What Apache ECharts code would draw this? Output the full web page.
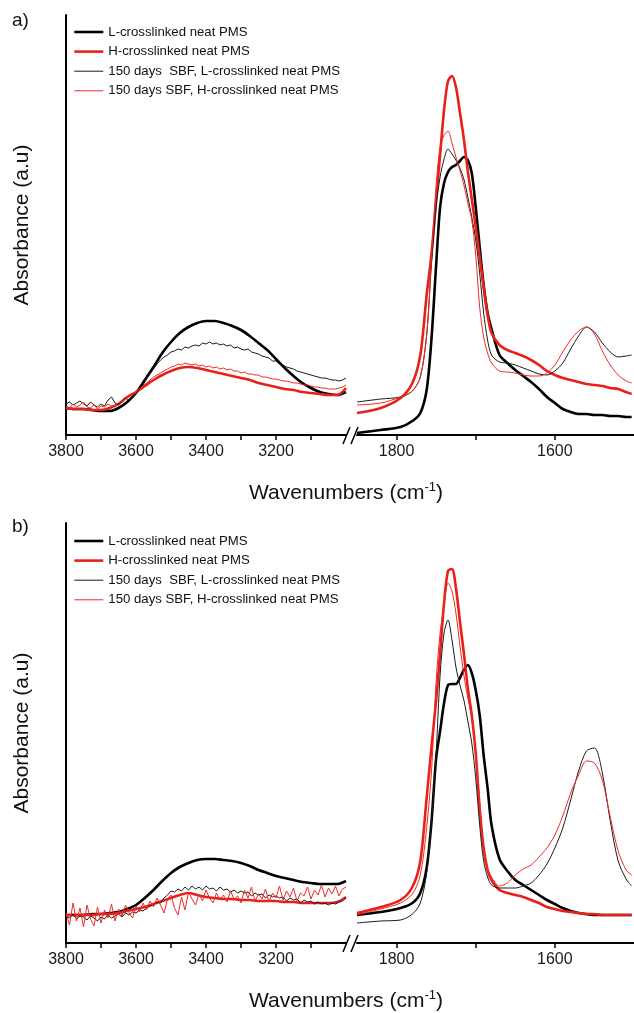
<!DOCTYPE html>
<html>
<head>
<meta charset="utf-8">
<title>FTIR spectra of neat PMS</title>
<script src="https://cdn.jsdelivr.net/npm/echarts@6.0.0/dist/echarts.min.js"></script>
<style>
  html, body { margin: 0; padding: 0; background: #fff; }
  #chart { width: 634px; height: 1013px; }
</style>
</head>
<body>
<div id="chart"></div>
<script>
// legend / series names
const seriesNames = [
  'L-crosslinked neat PMS',
  'H-crosslinked neat PMS',
  '150 days  SBF, L-crosslinked neat PMS',
  '150 days SBF, H-crosslinked neat PMS'
];

// wavenumber grids (cm-1)
const leftWnCoarse = [
  3800, 3775, 3750, 3725, 3700, 3675, 3650, 3625, 3600, 3575,
  3550, 3525, 3500, 3475, 3450, 3425, 3400, 3375, 3350, 3325,
  3300, 3275, 3250, 3225, 3200, 3175, 3150, 3125, 3100, 3075,
  3050, 3025, 3000
];
const leftWnFine = [
  3800, 3790, 3780, 3770, 3760, 3750, 3740, 3730, 3720, 3710,
  3700, 3690, 3680, 3670, 3660, 3650, 3640, 3630, 3620, 3610,
  3600, 3590, 3580, 3570, 3560, 3550, 3540, 3530, 3520, 3510,
  3500, 3490, 3480, 3470, 3460, 3450, 3440, 3430, 3420, 3410,
  3400, 3390, 3380, 3370, 3360, 3350, 3340, 3330, 3320, 3310,
  3300, 3290, 3280, 3270, 3260, 3250, 3240, 3230, 3220, 3210,
  3200, 3190, 3180, 3170, 3160, 3150, 3140, 3130, 3120, 3110,
  3100, 3090, 3080, 3070, 3060, 3050, 3040, 3030, 3020, 3010,
  3000
];
const rightWn = [
  1850, 1820, 1795, 1780, 1770, 1762, 1756, 1750, 1745, 1740,
  1735, 1730, 1725, 1720, 1715, 1710, 1705, 1700, 1695, 1690,
  1685, 1680, 1670, 1660, 1650, 1640, 1630, 1620, 1610, 1600,
  1590, 1580, 1570, 1560, 1550, 1540, 1530, 1520, 1510, 1503
];

// axis ticks and labels
const leftTicks = [3800, 3700, 3600, 3500, 3400, 3300, 3200, 3100];
const leftLabels = [3800, 3600, 3400, 3200];
const rightTicks = [1800, 1700, 1600];
const rightLabels = [1800, 1600];

// ---- panel a) absorbance (a.u.) ----
const aLThickLeft = [
  27, 26, 26, 25, 24, 24, 27, 33, 42, 55,
  68, 82, 93, 102, 108, 112, 114, 114, 112, 109,
  105, 99, 92, 85, 76, 67, 59, 52, 47, 43,
  41, 40, 43
];
const aHThickLeft = [
  27, 26, 26, 25, 25, 27, 31, 38, 43, 49,
  55, 60, 64, 67, 68, 67, 65, 63, 61, 59,
  57, 55, 52, 50, 48, 46, 45, 43, 42, 41,
  40, 40, 47
];
const aLThinLeft = [
  31, 33, 30, 32, 34, 31, 29, 33, 30, 28,
  31, 29, 35, 38, 32, 30, 34, 37, 35, 39,
  41, 46, 50, 56, 61, 66, 71, 75, 78, 80,
  83, 84, 86, 85, 88, 87, 89, 90, 89, 92,
  91, 93, 91, 92, 90, 91, 89, 90, 87, 88,
  86, 85, 86, 83, 82, 81, 79, 78, 77, 74,
  74, 71, 70, 68, 67, 66, 64, 63, 62, 61,
  60, 59, 58, 57, 57, 56, 55, 55, 54, 55,
  57
];
const aHThinLeft = [
  29, 27, 31, 28, 30, 33, 28, 27, 30, 26,
  29, 28, 31, 29, 30, 32, 34, 36, 38, 41,
  43, 46, 49, 52, 55, 58, 60, 62, 64, 66,
  68, 69, 71, 70, 72, 71, 70, 71, 69, 70,
  68, 69, 67, 68, 66, 67, 65, 66, 64, 64,
  62, 63, 61, 61, 60, 60, 58, 58, 57, 56,
  56, 55, 54, 54, 53, 52, 52, 51, 50, 50,
  49, 48, 48, 47, 47, 46, 46, 46, 47, 48,
  50
];
const aLThickRight = [
  2, 5, 8, 14, 22, 45, 95, 170, 228, 252,
  263, 268, 270, 274, 278, 275, 262, 228, 188, 150,
  122, 106, 80, 72, 65, 59, 53, 46, 38, 32,
  26, 23, 21, 21, 20, 20, 19, 19, 18, 18
];
const aHThickRight = [
  22, 27, 37, 52, 80, 140, 180, 235, 280, 325,
  354, 359, 348, 323, 296, 264, 236, 208, 178, 148,
  120, 102, 90, 85, 82, 79, 75, 70, 64, 60,
  57, 55, 53, 51, 50, 49, 47, 46, 43, 41
];
const aLThinRight = [
  33, 36, 38, 44, 58, 100, 170, 228, 258, 276,
  286, 281, 275, 267, 256, 238, 218, 195, 162, 122,
  95, 80, 73, 72, 70, 67, 64, 61, 60, 64,
  72, 86, 99, 108, 103, 92, 83, 78, 79, 80
];
const aHThinRight = [
  30, 32, 38, 44, 58, 100, 175, 250, 288, 300,
  304, 292, 278, 265, 250, 232, 215, 180, 128, 98,
  82, 72, 64, 63, 62, 60, 59, 59, 62, 70,
  83, 95, 104, 108, 101, 84, 70, 60, 54, 52
];

// ---- panel b) ----
const bLThickLeft = [
  28, 28, 28, 29, 29, 30, 31, 34, 38, 45,
  53, 62, 70, 76, 80, 83, 84, 84, 83, 82,
  80, 77, 73, 70, 67, 65, 63, 61, 60, 59,
  59, 59, 62
];
const bHThickLeft = [
  28, 28, 28, 28, 29, 29, 30, 32, 34, 36,
  39, 42, 45, 48, 50, 48, 46, 45, 44, 44,
  43, 43, 42, 42, 42, 41, 41, 40, 40, 40,
  40, 41, 46
];
const bLThinLeft = [
  27, 25, 29, 24, 27, 26, 23, 27, 25, 22,
  26, 24, 28, 25, 27, 29, 26, 30, 28, 31,
  30, 33, 32, 35, 37, 38, 41, 40, 45, 48,
  52, 51, 54, 52, 56, 53, 57, 54, 56, 53,
  57, 54, 55, 52, 56, 53, 54, 51, 53, 50,
  52, 50, 51, 47, 50, 48, 49, 45, 48, 46,
  47, 45, 46, 42, 45, 43, 44, 40, 43, 41,
  42, 39, 41, 39, 40, 38, 40, 39, 41, 42,
  45
];
const bHThinLeft = [
  30, 18, 40, 22, 35, 16, 38, 24, 17, 36,
  20, 33, 25, 39, 22, 34, 27, 38, 30, 25,
  37, 31, 40, 33, 42, 36, 45, 38, 30, 44,
  48, 35, 28, 46, 33, 51, 44, 38, 49, 42,
  53, 45, 40, 50, 43, 48, 41, 52, 44, 47,
  40, 53, 45, 56, 42, 49, 44, 54, 41, 50,
  45, 57, 43, 52, 46, 55, 42, 50, 47, 56,
  44, 53, 48, 58, 46, 55, 49, 57, 47, 54,
  56
];
const bLThickRight = [
  28, 31, 35, 40, 50, 75, 120, 185, 212, 240,
  258, 259, 259, 265, 273, 278, 270, 253, 228, 188,
  155, 118, 84, 72, 63, 58, 53, 48, 43, 39,
  35, 32, 30, 29, 28, 28, 28, 28, 28, 28
];
const bHThickRight = [
  30, 36, 43, 56, 82, 145, 195, 243, 290, 340,
  372, 374, 355, 322, 290, 255, 228, 190, 135, 95,
  73, 63, 53, 50, 48, 46, 43, 40, 36, 34,
  32, 31, 30, 29, 29, 28, 28, 28, 28, 28
];
const bLThinRight = [
  20, 22, 23, 29, 40, 70, 120, 190, 268, 310,
  323, 303, 276, 258, 243, 222, 200, 165, 118, 82,
  66, 58, 55, 55, 55, 57, 60, 68, 79, 95,
  115, 143, 172, 192, 195, 170, 122, 82, 64, 57
];
const bHThinRight = [
  28, 34, 40, 49, 68, 115, 170, 262, 310, 338,
  360, 352, 330, 298, 268, 245, 225, 190, 140, 95,
  75, 66, 57, 60, 68, 74, 78, 86, 95, 108,
  127, 150, 168, 182, 180, 163, 126, 92, 73, 68
];

const FONT = 'Liberation Sans, Arial, Helvetica, sans-serif';
const BLACK = '#000000';
const RED = '#e8201c';
const styles = [
  { color: BLACK, width: 2.6 },
  { color: RED, width: 2.6 },
  { color: '#1a1a1a', width: 1 },
  { color: '#f02a26', width: 1 }
];

const zip = (xs, ys) => xs.map((x, i) => [x, ys[i]]);

// grids: [a-left, a-right, b-left, b-right]
const panelTops = [15, 523];
const plotH = 420;

const grids = [];
const xAxes = [];
const yAxes = [];
panelTops.forEach((top, p) => {
  grids.push({ left: 66, top, width: 280, height: plotH });
  grids.push({ left: 357, top, width: 280, height: plotH });
  const gl = p * 2, gr = p * 2 + 1;
  [[gl, 3000, 3800, leftTicks, leftLabels], [gr, 1500, 1850, rightTicks, rightLabels]]
    .forEach(([g, min, max, ticks, labels]) => {
      xAxes.push({
        type: 'value', gridIndex: g, min, max, inverse: true,
        axisLine: { show: true, onZero: false, lineStyle: { color: BLACK, width: 2 } },
        axisTick: { show: true, inside: false, length: 5, customValues: ticks,
          lineStyle: { color: BLACK, width: 1.5 } },
        axisLabel: { show: true, customValues: labels, margin: 9, color: '#1a1a1a',
          fontSize: 16, fontFamily: FONT, formatter: v => String(v) },
        splitLine: { show: false }
      });
    });
  yAxes.push({
    type: 'value', gridIndex: gl, min: 0, max: plotH,
    axisLine: { show: true, onZero: false, lineStyle: { color: BLACK, width: 2 } },
    axisTick: { show: false }, axisLabel: { show: false }, splitLine: { show: false }
  });
  yAxes.push({ type: 'value', gridIndex: gr, min: 0, max: plotH, show: false });
});

const panelData = [
  {
    left: [[leftWnCoarse, aLThickLeft], [leftWnCoarse, aHThickLeft], [leftWnFine, aLThinLeft], [leftWnFine, aHThinLeft]],
    right: [aLThickRight, aHThickRight, aLThinRight, aHThinRight]
  },
  {
    left: [[leftWnCoarse, bLThickLeft], [leftWnCoarse, bHThickLeft], [leftWnFine, bLThinLeft], [leftWnFine, bHThinLeft]],
    right: [bLThickRight, bHThickRight, bLThinRight, bHThinRight]
  }
];

const series = [];
panelData.forEach((pd, p) => {
  seriesNames.forEach((name, i) => {
    const thin = i >= 2;
    series.push({
      name, type: 'line', xAxisIndex: p * 2, yAxisIndex: p * 2,
      data: zip(pd.left[i][0], pd.left[i][1]),
      symbol: 'none', smooth: thin ? false : 0.3,
      lineStyle: { color: styles[i].color, width: styles[i].width },
      itemStyle: { color: styles[i].color },
      z: 2 + i, silent: true
    });
    series.push({
      name, type: 'line', xAxisIndex: p * 2 + 1, yAxisIndex: p * 2 + 1,
      data: zip(rightWn, pd.right[i]),
      symbol: 'none', smooth: 0.3,
      lineStyle: { color: styles[i].color, width: styles[i].width },
      itemStyle: { color: styles[i].color },
      z: 2 + i, silent: true
    });
  });
});

const legends = [25, 534].map(top => ({
  orient: 'vertical', left: 73, top, padding: 0,
  itemWidth: 29, itemHeight: 14, itemGap: 5.6,
  selectedMode: false,
  textStyle: { fontSize: 13.2, color: '#111', fontFamily: FONT, lineHeight: 14 },
  data: seriesNames.map((name, i) => ({
    name,
    lineStyle: { color: styles[i].color, width: styles[i].width },
    itemStyle: { color: styles[i].color, opacity: 0 }
  }))
}));

const graphics = [];
panelTops.forEach((top, p) => {
  const axisY = top + plotH;
  // panel letter
  graphics.push({ type: 'text', x: 12, y: top + 6 + (p ? -2 : 0),
    style: { text: p ? 'b)' : 'a)', font: '19px ' + FONT, fill: '#111',
      textVerticalAlign: 'middle' } });
  // y title
  graphics.push({ type: 'text', x: 22, y: top + plotH / 2, rotation: Math.PI / 2,
    style: { text: 'Absorbance (a.u)', font: '21px ' + FONT, fill: '#111',
      textAlign: 'center', textVerticalAlign: 'middle' } });
  // x title
  graphics.push({ type: 'text', x: 346, y: axisY + 58,
    style: { text: 'Wavenumbers (cm{sup|-1})', font: '21px ' + FONT, fill: '#111',
      textAlign: 'center', textVerticalAlign: 'middle',
      rich: { sup: { fontSize: 13, fontFamily: FONT, fill: '#111', padding: [0, 0, 11, 0] } } } });
  // axis break marks
  graphics.push({ type: 'line', shape: { x1: 343, y1: axisY + 9, x2: 350, y2: axisY - 8 },
    style: { stroke: BLACK, lineWidth: 1.5 } });
  graphics.push({ type: 'line', shape: { x1: 351, y1: axisY + 9, x2: 358, y2: axisY - 8 },
    style: { stroke: BLACK, lineWidth: 1.5 } });
});

const chart = echarts.init(document.getElementById('chart'), null, { renderer: 'canvas' });
chart.setOption({
  animation: false,
  backgroundColor: '#ffffff',
  grid: grids,
  xAxis: xAxes,
  yAxis: yAxes,
  legend: legends,
  graphic: graphics,
  series
});
</script>
</body>
</html>
